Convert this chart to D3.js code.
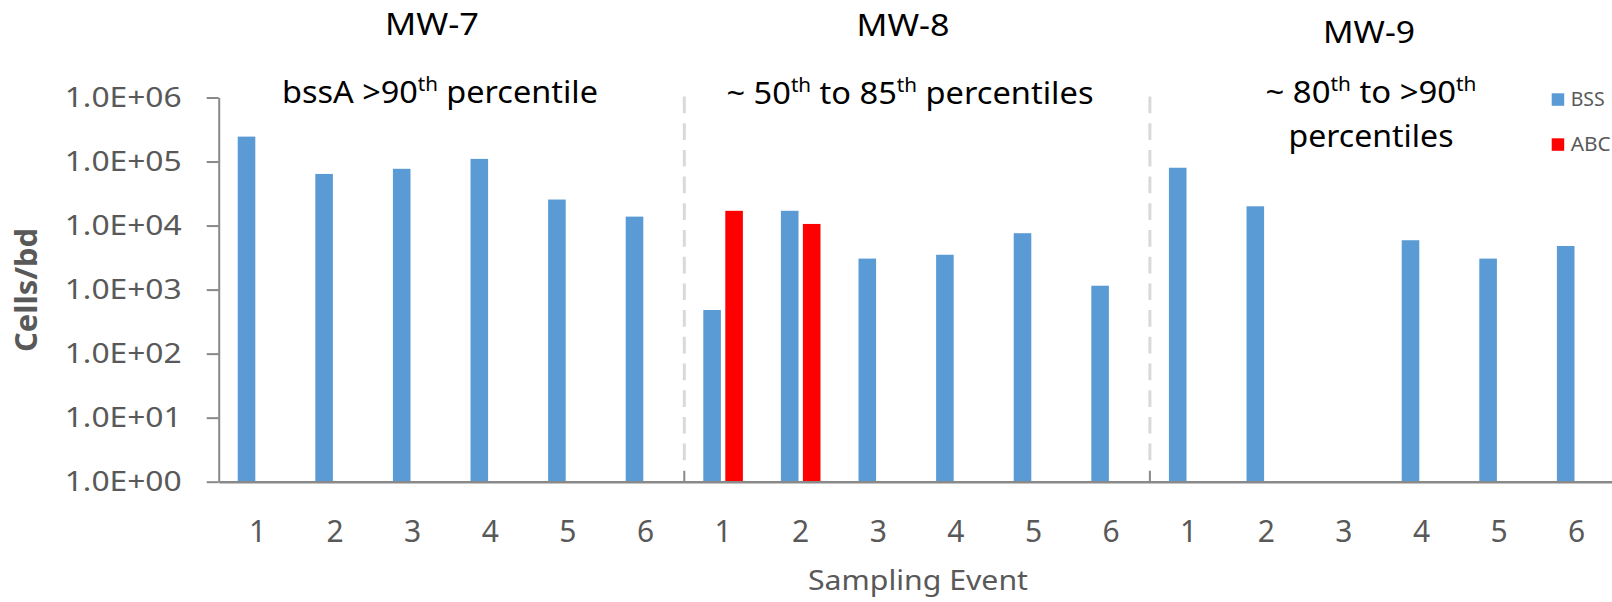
<!DOCTYPE html>
<html><head><meta charset="utf-8">
<script src="https://cdn.jsdelivr.net/npm/d3@7"></script>
<style>body{margin:0;background:#fff}svg{display:block}</style>
</head><body>
<svg id="c" width="1612" height="602"></svg>
<script>
// ---- data ----
const wells = ["MW-7", "MW-8", "MW-9"];
const events = ["1", "2", "3", "4", "5", "6"];
const seriesNames = ["BSS", "ABC"];
const bssValues = [245000, 64000, 77000, 110000, 25500, 13800,
                   480, 17000, 3050, 3500, 7600, 1150,
                   80000, 20000, null, 5900, 3050, 4800];
const abcValues = [null, null, null, null, null, null,
                   17000, 10600, null, null, null, null,
                   null, null, null, null, null, null];
const yTickValues = [1, 10, 100, 1000, 10000, 100000, 1000000];
const yTickLabels = ["1.0E+00", "1.0E+01", "1.0E+02", "1.0E+03", "1.0E+04", "1.0E+05", "1.0E+06"];

// ---- styles ----
const colors = {BSS: "#5B9BD5", ABC: "#FF0000"};
const F = "'Noto Sans', 'Open Sans', sans-serif";
const GRAY = "#595959", AXIS = "#898989";

const svg = d3.select("#c");
const categories = wells.flatMap(w => events.map(e => w + "|" + e));
const rows = categories.map((c, i) => ({c, BSS: bssValues[i], ABC: abcValues[i]}));

const x0 = d3.scaleBand().domain(categories).range([218.7, 1615.5]).paddingInner(0.49).paddingOuter(0.245);
const x1 = d3.scaleBand().domain(seriesNames).range([0, x0.bandwidth()]).paddingInner(0.2);
const y = d3.scaleLog().domain([1, 1e6]).range([481.7, 97.5]);

// separators
[6, 12].forEach(i => {
  const bx = x0.range()[0] + i * x0.step();
  svg.append("line").attr("x1", bx).attr("x2", bx).attr("y1", y(1e6) - 1).attr("y2", y(1) - 17)
    .attr("stroke", "#D9D9D9").attr("stroke-width", 3).attr("stroke-dasharray", "16.7,10");
  svg.append("line").attr("x1", bx).attr("x2", bx).attr("y1", y(1) - 11).attr("y2", y(1))
    .attr("stroke", AXIS).attr("stroke-width", 2);
});

// bars
svg.append("g").selectAll("g").data(rows).join("g")
  .attr("transform", d => `translate(${x0(d.c)},0)`)
  .selectAll("rect")
  .data(d => seriesNames.map(s => ({s, v: d[s]})).filter(e => e.v != null))
  .join("rect")
  .attr("x", e => x1(e.s)).attr("width", x1.bandwidth())
  .attr("y", e => y(e.v)).attr("height", e => y(1) - y(e.v))
  .attr("fill", e => colors[e.s]);

// y axis
const gy = svg.append("g").attr("transform", `translate(${x0.range()[0]},0)`)
  .call(d3.axisLeft(y).tickValues(yTickValues).tickFormat((d, i) => yTickLabels[i])
        .tickSize(12).tickSizeOuter(0).tickPadding(25));
gy.select(".domain").attr("stroke", AXIS).attr("stroke-width", 2);
gy.selectAll(".tick line").attr("stroke", AXIS).attr("stroke-width", 2);
gy.selectAll(".tick text").attr("font-family", F).attr("font-size", 28).attr("fill", GRAY)
  .attr("textLength", 117).attr("lengthAdjust", "spacingAndGlyphs");

// x axis
const gx = svg.append("g").attr("transform", `translate(0,${y(1)})`)
  .call(d3.axisBottom(x0).tickSize(0).tickSizeOuter(0).tickFormat(c => c.split("|")[1]));
gx.select(".domain").attr("stroke", AXIS).attr("stroke-width", 2.5);
gx.selectAll(".tick text").attr("y", 60).attr("dy", null)
  .attr("font-family", F).attr("font-size", 30).attr("fill", GRAY);
gy.raise();

// axis titles
svg.append("text").attr("x", 918).attr("y", 590).attr("text-anchor", "middle")
  .attr("font-family", F).attr("font-size", 28).attr("fill", GRAY)
  .attr("textLength", 220).attr("lengthAdjust", "spacingAndGlyphs").text("Sampling Event");
svg.append("text").attr("transform", "translate(37,290) rotate(-90)").attr("text-anchor", "middle")
  .attr("font-family", F).attr("font-size", 30).attr("font-weight", "bold").attr("fill", GRAY)
  .attr("textLength", 124).attr("lengthAdjust", "spacingAndGlyphs").text("Cells/bd");

// annotations
function title(x, yy, w, parts) {
  const t = svg.append("text").attr("x", x).attr("y", yy).attr("text-anchor", "middle")
    .attr("font-family", F).attr("font-size", 30).attr("fill", "#000")
    .attr("textLength", w).attr("lengthAdjust", "spacingAndGlyphs");
  let raised = false;
  parts.forEach(p => {
    if (typeof p === "object") {
      t.append("tspan").attr("dy", -12).attr("font-size", 19).text(p.s);
      raised = true;
    } else {
      t.append("tspan").attr("dy", raised ? 12 : null).text(p);
      raised = false;
    }
  });
}
title(432, 35, 94, ["MW-7"]);
title(903, 36, 93, ["MW-8"]);
title(1369, 43, 92, ["MW-9"]);
title(440, 103, 316, ["bssA >90", {s: "th"}, " percentile"]);
title(910, 104, 367, ["~ 50", {s: "th"}, " to 85", {s: "th"}, " percentiles"]);
title(1371, 103, 211, ["~ 80", {s: "th"}, " to >90", {s: "th"}]);
title(1371, 146.7, 165, ["percentiles"]);

// legend
seriesNames.forEach((s, i) => {
  const ly = 93.3 + i * 45;
  svg.append("rect").attr("x", 1551.7).attr("y", ly).attr("width", 12.5).attr("height", 12.5).attr("fill", colors[s]);
  svg.append("text").attr("x", 1570.7).attr("y", ly + 13).attr("font-family", F).attr("font-size", 20)
    .attr("fill", GRAY).attr("textLength", i === 0 ? 34 : 40).attr("lengthAdjust", "spacingAndGlyphs").text(s);
});
</script>
</body></html>
